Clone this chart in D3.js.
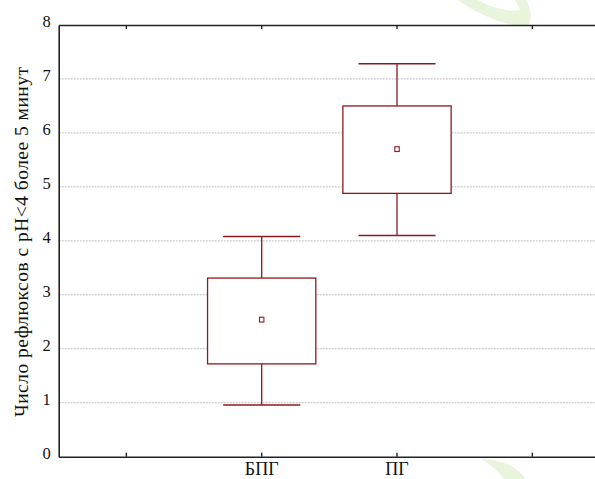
<!DOCTYPE html>
<html>
<head>
<meta charset="utf-8">
<script src="https://cdn.jsdelivr.net/npm/d3@7"></script>
<style>
  html, body { margin: 0; padding: 0; background: #fff; }
  svg { display: block; }
  svg text { font-family: 'Liberation Serif', 'Times New Roman', Times, 'DejaVu Serif', serif; fill: #111; }
</style>
</head>
<body>
<svg id="chart" width="595" height="479"></svg>
<script>
// ---- data ----
const slots = ["s0", "БПГ", "ПГ", "s3"];          // category slots on x
const categories = ["БПГ", "ПГ"];
const means      = [2.54, 5.70];
const boxLow     = [1.72, 4.88];
const boxHigh    = [3.31, 6.50];
const whiskLow   = [0.96, 4.10];
const whiskHigh  = [4.08, 7.28];
const yTicks     = [0, 1, 2, 3, 4, 5, 6, 7, 8];
const yTitle     = "Число рефлюксов с рН<4 более 5 минут";

(function () {
const svg = d3.select("#chart");
const pLeft = 58.7, pRight = 600, pTop = 25, pBottom = 456.7;
const col = "#8B1A1F";
const serif = "'Liberation Serif', 'Times New Roman', Times, 'DejaVu Serif', serif";

const x = d3.scaleBand().domain(slots).range([pLeft, pRight]).padding(0);
const y = d3.scaleLinear().domain([0, 8]).range([pBottom, pTop]);
const bw = x.bandwidth();
const cx = d => x(d) + bw / 2;

// watermark (faint leaf)
const wm = svg.append("g").attr("fill", "#e9f4dc");
wm.append("path").attr("d", "M458,0 C478,14 505,27 528,26 C533,16 530,6 526,0 Z");
wm.append("path").attr("fill", "#fff").attr("d", "M478,0 C492,8 508,12 520,10 C518,5 516,2 515,0 Z");
wm.append("path").attr("d", "M481,459 C503,460 519,467 525,479 L504,479 C498,471 490,464 481,459 Z");

// gridlines
svg.append("g").selectAll("line").data(yTicks.filter(t => t > 0 && t < 8)).join("line")
  .attr("x1", pLeft).attr("x2", pRight)
  .attr("y1", d => y(d)).attr("y2", d => y(d))
  .attr("stroke", "#bdbdbd").attr("stroke-width", 1).attr("stroke-dasharray", "2,1");

// boxes
const g = svg.append("g");
categories.forEach((c, i) => {
  const xc = cx(c);
  const bwid = bw * 0.8, cap = bw * 0.57;
  g.append("line").attr("x1", xc).attr("x2", xc).attr("y1", y(whiskHigh[i])).attr("y2", y(whiskLow[i]))
    .attr("stroke", col).attr("stroke-width", 1.3);
  g.append("line").attr("x1", xc - cap / 2).attr("x2", xc + cap / 2).attr("y1", y(whiskHigh[i])).attr("y2", y(whiskHigh[i]))
    .attr("stroke", col).attr("stroke-width", 1.5);
  g.append("line").attr("x1", xc - cap / 2).attr("x2", xc + cap / 2).attr("y1", y(whiskLow[i])).attr("y2", y(whiskLow[i]))
    .attr("stroke", col).attr("stroke-width", 1.5);
  g.append("rect").attr("x", xc - bwid / 2).attr("width", bwid)
    .attr("y", y(boxHigh[i])).attr("height", y(boxLow[i]) - y(boxHigh[i]))
    .attr("fill", "#fff").attr("stroke", col).attr("stroke-width", 1.3);
  g.append("rect").attr("x", xc - 2.2).attr("y", y(means[i]) - 2.4).attr("width", 4.4).attr("height", 4.8)
    .attr("fill", "#fff").attr("stroke", col).attr("stroke-width", 1.1);
});

// axes
const fmtX = d => categories.includes(d) ? d : "";
const xb = svg.append("g").attr("transform", `translate(0,${pBottom})`)
  .call(d3.axisBottom(x).tickFormat(fmtX).tickSizeInner(-4).tickSizeOuter(0).tickPadding(6));
const xt = svg.append("g").attr("transform", `translate(0,${pTop})`)
  .call(d3.axisTop(x).tickFormat("").tickSizeInner(-4).tickSizeOuter(0));
[xb, xt].forEach(a => {
  a.attr("font-family", serif);
  a.select(".domain").attr("stroke", "#222").attr("stroke-width", 1.6);
  a.selectAll(".tick line").attr("stroke", "#222").attr("stroke-width", 1.4);
});
xb.selectAll(".tick text").attr("font-size", 18).attr("fill", "#111");

const ya = svg.append("g").attr("transform", `translate(${pLeft},0)`)
  .call(d3.axisLeft(y).tickValues(yTicks).tickSize(0).tickPadding(8).tickFormat(d3.format("d")));
ya.attr("font-family", serif);
ya.select(".domain").attr("stroke", "#222").attr("stroke-width", 1.6);
ya.selectAll(".tick text").attr("font-size", 16.5).attr("fill", "#111")
  .attr("dy", "0.1em");

// y title
svg.append("text").attr("transform", `translate(28,242) rotate(-90)`)
  .attr("text-anchor", "middle").attr("font-size", 19.5)
  .attr("textLength", 350).attr("lengthAdjust", "spacing").text(yTitle);
})();
</script>
</body>
</html>
